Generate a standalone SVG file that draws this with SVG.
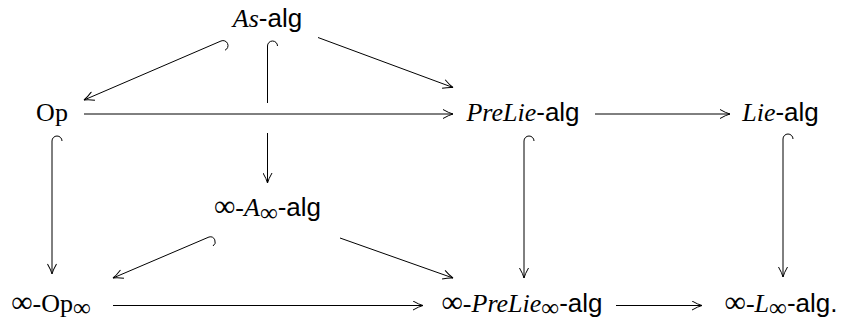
<svg xmlns="http://www.w3.org/2000/svg" width="844" height="320" viewBox="0 0 844 320">
<style>
.lbl{font-size:26px;fill:#000;text-anchor:middle}
.rm{font-family:"Liberation Serif","Times New Roman",serif}
.it{font-family:"Liberation Serif","Times New Roman",serif;font-style:italic}
.sf{font-family:"Liberation Sans",Arial,sans-serif}
.inf{font-family:"Liberation Serif","Times New Roman",serif;font-size:30px}
.sub{font-size:25px}
.c{fill:none;stroke:#000;stroke-width:1}
</style>
<defs>
<marker id="ah" markerWidth="12" markerHeight="10" refX="0" refY="0" viewBox="-11 -5 12 10" orient="auto" markerUnits="userSpaceOnUse">
<path d="M-10,-4.5 Q-4,-1 0,0 Q-4,1 -10,4.5" fill="none" stroke="#000" stroke-width="1"/>
</marker>
</defs>
<g id="n-as"><text class="lbl" x="267.5" y="27"><tspan class="it">As</tspan><tspan class="sf">-alg</tspan></text></g>
<g id="n-op"><text class="lbl rm" x="52" y="121">Op</text></g>
<g id="n-prelie"><text class="lbl" x="523" y="121"><tspan class="it">PreLie</tspan><tspan class="sf">-alg</tspan></text></g>
<g id="n-lie"><text class="lbl" x="780.5" y="121"><tspan class="it">Lie</tspan><tspan class="sf">-alg</tspan></text></g>
<g id="n-ainf"><text class="lbl" x="267.5" y="216"><tspan class="inf">∞</tspan><tspan class="rm">-</tspan><tspan class="it">A</tspan><tspan class="inf sub" dy="5">∞</tspan><tspan class="sf" dy="-5">-alg</tspan></text></g>
<g id="n-opinf"><text class="lbl" x="51" y="312"><tspan class="inf">∞</tspan><tspan class="rm">-Op</tspan><tspan class="inf sub" dy="4">∞</tspan></text></g>
<g id="n-prelieinf"><text class="lbl" x="522" y="312"><tspan class="inf">∞</tspan><tspan class="rm">-</tspan><tspan class="it">PreLie</tspan><tspan class="inf sub" dy="4">∞</tspan><tspan class="sf" dy="-4">-alg</tspan></text></g>
<g id="n-linf"><text class="lbl" x="781" y="312"><tspan class="inf">∞</tspan><tspan class="rm">-</tspan><tspan class="it">L</tspan><tspan class="inf sub" dy="4">∞</tspan><tspan class="sf" dy="-4">-alg.</tspan></text></g>
<g id="connectors">
<path class="c" d="M225,50.2 A5,5 0 0 0 221,41 L84,100" marker-end="url(#ah)"/>
<path class="c" d="M277.5,46 A5,5 0 0 0 267.5,46 L267.5,103"/>
<path class="c" d="M267.5,133 L267.5,183" marker-end="url(#ah)"/>
<path class="c" d="M318,37.5 L453,87.5" marker-end="url(#ah)"/>
<path class="c" d="M84,114 L453,114" marker-end="url(#ah)"/>
<path class="c" d="M595,114 L730,114" marker-end="url(#ah)"/>
<path class="c" d="M62,141 A5,5 0 0 0 52,141 L52,274" marker-end="url(#ah)"/>
<path class="c" d="M534,141 A5,5 0 0 0 524,141 L524,278" marker-end="url(#ah)"/>
<path class="c" d="M793,139 A5,5 0 0 0 783,139 L783,277" marker-end="url(#ah)"/>
<path class="c" d="M213,246 A5,5 0 0 0 209,237 L113,278" marker-end="url(#ah)"/>
<path class="c" d="M340,238 L453,278" marker-end="url(#ah)"/>
<path class="c" d="M113,305.5 L423,305.5" marker-end="url(#ah)"/>
<path class="c" d="M616,305.5 L702,305.5" marker-end="url(#ah)"/>
</g>
</svg>
